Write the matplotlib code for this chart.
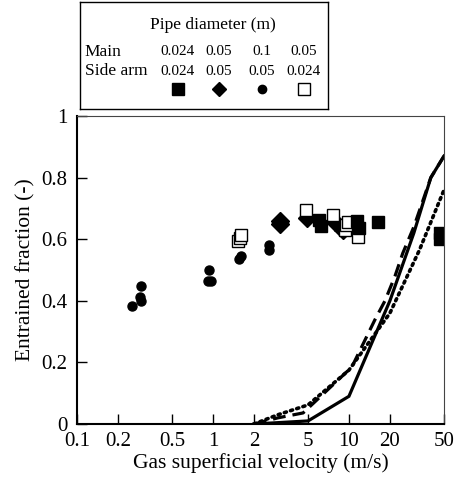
import matplotlib
matplotlib.use("Agg")
import matplotlib.pyplot as plt

plt.rcParams['font.family'] = ['Liberation Serif', 'DejaVu Serif']

# model curves
solid_v = [2, 5, 10, 20, 30, 40, 50]
solid_f = [0.0, 0.01, 0.09, 0.40, 0.62, 0.80, 0.87]
dashed_v = [2, 3, 4.6, 10.5, 15.5, 18.4, 21.8, 24.9, 30, 40, 50]
dashed_f = [0.0, 0.02, 0.036, 0.185, 0.338, 0.40, 0.48, 0.555, 0.64, 0.80, 0.87]
dotted_v = [2, 3, 5, 10, 20, 33, 50]
dotted_f = [0.0, 0.03, 0.062, 0.175, 0.36, 0.565, 0.76]

# measurements, main 0.024 / side 0.024
sq_v = [6.0, 6.2, 11.5, 11.8, 16.4, 46.7, 46.7]
sq_f = [0.662, 0.642, 0.66, 0.635, 0.657, 0.62, 0.60]
# main 0.05 / side 0.05
dia_v = [3.1, 3.12, 4.93, 7.9, 9.1]
dia_f = [0.65, 0.66, 0.668, 0.657, 0.63]
# main 0.1 / side 0.05
circ_v = [0.252, 0.29, 0.295, 0.296, 0.935, 0.92, 0.965, 1.55, 1.62, 2.6, 2.6]
circ_f = [0.383, 0.413, 0.40, 0.448, 0.50, 0.465, 0.465, 0.537, 0.545, 0.58, 0.565]
# main 0.05 / side 0.024
osq_v = [1.53, 1.58, 1.62, 4.83, 7.59, 9.3, 9.5, 9.8, 11.7]
osq_f = [0.595, 0.603, 0.614, 0.695, 0.678, 0.63, 0.646, 0.657, 0.608]

xticks = [0.1, 0.2, 0.5, 1, 2, 5, 10, 20, 50]
xtick_labels = ["0.1", "0.2", "0.5", "1", "2", "5", "10", "20", "50"]
yticks = [0, 0.2, 0.4, 0.6, 0.8, 1]
ytick_labels = ["0", "0.2", "0.4", "0.6", "0.8", "1"]

main_d = ["0.024", "0.05", "0.1", "0.05"]
side_d = ["0.024", "0.05", "0.05", "0.024"]

fig = plt.figure(figsize=(4.55, 4.88), dpi=100)
ax = fig.add_axes([0.1692, 0.1311, 0.8066, 0.6311])

ax.plot(solid_v, solid_f, color="black", lw=2.3, solid_joinstyle="miter")
ax.plot(dashed_v, dashed_f, color="black", lw=2.3, dashes=(4, 2.2))
ax.plot(dotted_v, dotted_f, color="black", lw=2.6, dashes=(0.6, 1.2), dash_capstyle="round")

ax.plot(circ_v, circ_f, "o", color="black", ms=6.5, ls="none")
ax.plot(dia_v, dia_f, "D", color="black", ms=9, ls="none")
ax.plot(osq_v, osq_f, "s", mfc="white", mec="black", mew=1.0, ms=8, ls="none")
ax.plot(sq_v, sq_f, "s", color="black", ms=8.5, ls="none")

ax.set_xscale("log")
ax.set_xlim(0.1, 50)
ax.set_ylim(0, 1)
ax.set_xticks(xticks, xtick_labels)
ax.set_yticks(yticks, ytick_labels)
ax.minorticks_off()
ax.tick_params(direction="in", length=7, width=1, labelsize=15)
ax.tick_params(axis="x", pad=6)
ax.tick_params(axis="y", pad=7)
ax.set_xlabel("Gas superficial velocity (m/s)", fontsize=15.5, labelpad=1)
ax.set_ylabel("Entrained fraction (-)", fontsize=15.5, labelpad=4)
for side in ["left", "bottom"]:
    ax.spines[side].set_linewidth(1.5)
for side in ["top", "right"]:
    ax.spines[side].set_linewidth(0.8)
    ax.spines[side].set_color("#444444")

# legend box drawn by hand
lg = fig.add_axes([0.1758, 0.7766, 0.545, 0.2193])
lg.set_xlim(0, 1)
lg.set_ylim(0, 1)
lg.set_xticks([])
lg.set_yticks([])
for s in lg.spines.values():
    s.set_linewidth(1.0)
lg.text(0.536, 0.785, "Pipe diameter (m)", ha="center", va="center", fontsize=12.5)
lg.text(0.02, 0.533, "Main", ha="left", va="center", fontsize=12.5)
lg.text(0.02, 0.355, "Side arm", ha="left", va="center", fontsize=12.5)
cols = [0.395, 0.560, 0.734, 0.903]
for cx, m, s in zip(cols, main_d, side_d):
    lg.text(cx, 0.533, m, ha="center", va="center", fontsize=11)
    lg.text(cx, 0.355, s, ha="center", va="center", fontsize=11)
lg.plot([cols[0]], [0.187], "s", color="black", ms=8)
lg.plot([cols[1]], [0.187], "D", color="black", ms=7.5)
lg.plot([cols[2]], [0.187], "o", color="black", ms=6)
lg.plot([cols[3]], [0.187], "s", mfc="white", mec="black", mew=1.0, ms=8)

fig.savefig("out.png", dpi=100)
